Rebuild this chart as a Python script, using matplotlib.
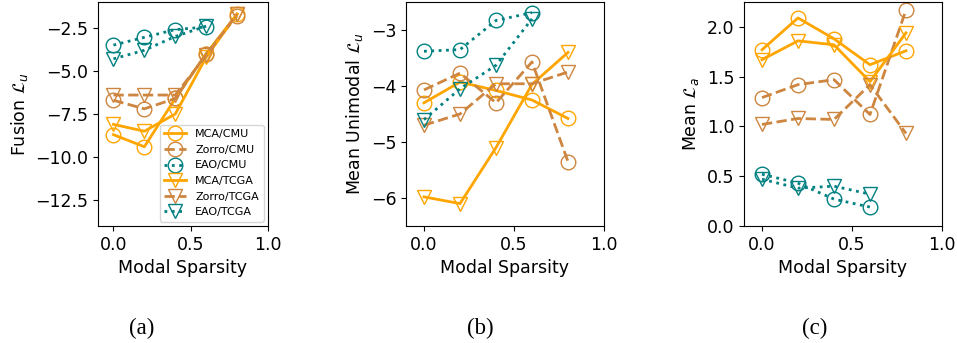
import numpy as np
import matplotlib
matplotlib.use("Agg")
import matplotlib.pyplot as plt

# modal sparsity levels
sparsity = [0.0, 0.2, 0.4, 0.6, 0.8]
sparsity_eao = [0.0, 0.2, 0.4, 0.6]

# (a) fusion loss
fusion_mca_cmu = [-8.7, -9.4, -6.6, -4.0, -1.7]
fusion_zorro_cmu = [-6.7, -7.2, -6.6, -4.0, -1.8]
fusion_eao_cmu = [-3.5, -3.05, -2.6, -2.45]
fusion_mca_tcga = [-8.1, -8.5, -7.5, -4.2, -1.7]
fusion_zorro_tcga = [-6.4, -6.4, -6.4, -4.1, -1.7]
fusion_eao_tcga = [-4.3, -3.8, -3.0, -2.4]

# (b) mean unimodal loss
uni_mca_cmu = [-4.3, -3.93, -4.08, -4.25, -4.58]
uni_zorro_cmu = [-4.07, -3.77, -4.3, -3.57, -5.35]
uni_eao_cmu = [-3.38, -3.35, -2.83, -2.69]
uni_mca_tcga = [-5.98, -6.1, -5.1, -3.97, -3.4]
uni_zorro_tcga = [-4.7, -4.5, -3.96, -3.96, -3.75]
uni_eao_tcga = [-4.6, -4.05, -3.63, -2.8]

# (c) mean alignment loss
align_mca_cmu = [1.77, 2.09, 1.88, 1.62, 1.76]
align_zorro_cmu = [1.29, 1.42, 1.47, 1.12, 2.17]
align_eao_cmu = [0.52, 0.43, 0.27, 0.19]
align_mca_tcga = [1.67, 1.86, 1.82, 1.45, 1.94]
align_zorro_tcga = [1.02, 1.08, 1.07, 1.42, 0.93]
align_eao_tcga = [0.47, 0.38, 0.4, 0.32]

labels = ["MCA/CMU", "Zorro/CMU", "EAO/CMU", "MCA/TCGA", "Zorro/TCGA", "EAO/TCGA"]
colors = ["orange", "peru", "teal", "orange", "peru", "teal"]
styles = ["-", "--", ":", "-", "--", ":"]
markers = ["o", "o", "o", "v", "v", "v"]

panels = [
    ([fusion_mca_cmu, fusion_zorro_cmu, fusion_eao_cmu,
      fusion_mca_tcga, fusion_zorro_tcga, fusion_eao_tcga],
     r"Fusion $\mathcal{L}_u$", (-14, -1), [-12.5, -10.0, -7.5, -5.0, -2.5]),
    ([uni_mca_cmu, uni_zorro_cmu, uni_eao_cmu,
      uni_mca_tcga, uni_zorro_tcga, uni_eao_tcga],
     r"Mean Unimodal $\mathcal{L}_u$", (-6.5, -2.5), [-6, -5, -4, -3]),
    ([align_mca_cmu, align_zorro_cmu, align_eao_cmu,
      align_mca_tcga, align_zorro_tcga, align_eao_tcga],
     r"Mean $\mathcal{L}_a$", (0, 2.25), [0.0, 0.5, 1.0, 1.5, 2.0]),
]

fig = plt.figure(figsize=(9.57, 3.43), dpi=100)
positions = [
    [98 / 957, 117 / 343, 170 / 957, 224 / 343],
    [406 / 957, 117 / 343, 198 / 957, 224 / 343],
    [744 / 957, 117 / 343, 198 / 957, 224 / 343],
]
captions = ["(a)", "(b)", "(c)"]
caption_x = [142 / 957, 480 / 957, 815 / 957]

for i, (series, ylabel, ylim, yticks) in enumerate(panels):
    ax = fig.add_axes(positions[i])
    for j, ys in enumerate(series):
        xs = sparsity if len(ys) == len(sparsity) else sparsity_eao
        ax.plot(xs, ys, linestyle=styles[j], color=colors[j], marker=markers[j],
                markerfacecolor="none", markersize=10.5, linewidth=2,
                label=labels[j])
    ax.set_xlim(-0.1, 1.0)
    ax.set_ylim(*ylim)
    ax.set_xticks([0.0, 0.5, 1.0])
    ax.set_yticks(yticks)
    ax.tick_params(labelsize=12.5)
    ax.set_xlabel("Modal Sparsity", fontsize=12.5)
    ax.set_ylabel(ylabel, fontsize=12.5)
    if i == 0:
        ax.legend(loc="lower right", fontsize=8, borderaxespad=0.4)
    fig.text(caption_x[i], 15 / 343, captions[i], ha="center", va="center",
             family="Liberation Serif", fontsize=16.5)

fig.savefig("out.png", dpi=100)
